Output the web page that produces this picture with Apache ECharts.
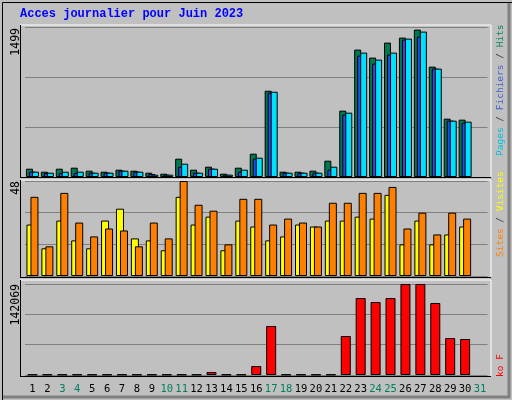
<!DOCTYPE html>
<html><head><meta charset="utf-8">
<script src="https://cdn.jsdelivr.net/npm/echarts@6/dist/echarts.min.js"></script>
<style>html,body{margin:0;padding:0;background:#c0c0c0}#c{width:512px;height:400px}</style>
</head><body><div id="c"></div>
<script>
const days = ['1','2','3','4','5','6','7','8','9','10','11','12','13','14','15','16','17','18','19','20','21','22','23','24','25','26','27','28','29','30','31'];
const weekend = ['3','4','10','11','17','18','24','25','31'];
const hits =   [83,53,83,93,63,53,73,63,43,33,183,73,103,33,93,233,862,53,53,63,163,663,1273,1193,1343,1393,1473,1103,583,573,null];
const files =  [53,40,40,40,43,43,63,53,30,23,103,43,83,23,53,183,842,43,43,43,73,623,1213,1133,1223,1373,1403,1083,563,543,null];
const pages =  [53,43,53,53,43,43,63,53,23,23,133,43,83,23,73,193,852,43,43,43,103,643,1243,1173,1243,1383,1453,1083,563,553,null];
const sites =  [26,14,28,18,14,28,34,19,18,13,40,26,30,13,28,25,18,20,26,25,28,28,30,29,41,16,28,16,21,25,null];
const visits = [40,15,42,27,20,24,23,15,27,19,48,36,33,16,39,39,26,29,27,25,37,37,42,42,45,24,32,21,32,29,null];
const kb =     [700,700,700,700,700,700,700,700,700,700,700,700,4700,700,700,14000,76500,700,700,700,700,60900,120100,113900,120100,142069,142069,112400,57700,56200,null];
const maxLabels = ['1499','48','142069'];
const maxVals = [1499,48,142069];

const chart = echarts.init(document.getElementById('c'));
const mono = 'DejaVu Sans Mono';
const L = 25, R = 24.5;
const grids = [
  {left:L,right:R,top:27,height:150},
  {left:L,right:R,top:181,height:95},
  {left:L,right:R,top:284,height:91}
];
function xa(i){return {type:'category',gridIndex:i,data:days,
  axisLine:{show:false},axisTick:{show:false},
  axisLabel:{show:i===2,interval:0,fontFamily:mono,fontSize:10.5,margin:9,
    color:(v)=>weekend.includes(v)?'#008060':'#000'}};}
function ya(i){return {type:'value',gridIndex:i,min:0,max:maxVals[i],interval:maxVals[i]/3,
  axisLabel:{show:false},axisLine:{show:false},axisTick:{show:false},
  splitLine:{show:true,lineStyle:{color:'#808080',width:1}}};}
const bs = {borderColor:'#000',borderWidth:1};
const series = [
  {type:'bar',xAxisIndex:0,yAxisIndex:0,data:hits,barWidth:7,barGap:'-57%',itemStyle:{color:'#007850',...bs}},
  {type:'bar',xAxisIndex:0,yAxisIndex:0,data:files,barWidth:7,barGap:'-57%',itemStyle:{color:'#2050f0',...bs}},
  {type:'bar',xAxisIndex:0,yAxisIndex:0,data:pages,barWidth:7,barGap:'-57%',itemStyle:{color:'#00e0ff',...bs}},
  {type:'bar',xAxisIndex:1,yAxisIndex:1,data:sites,barWidth:8,barGap:'-50%',itemStyle:{color:'#ffff00',...bs}},
  {type:'bar',xAxisIndex:1,yAxisIndex:1,data:visits,barWidth:8,barGap:'-50%',itemStyle:{color:'#ff8000',...bs}},
  {type:'bar',xAxisIndex:2,yAxisIndex:2,data:kb,barWidth:10,itemStyle:{color:'#ff0000',...bs}}
];
const g = [
  {type:'rect',left:0,top:0,shape:{x:0,y:0,width:511,height:399},style:{fill:'none',stroke:'#000',lineWidth:1},z:100},
  {type:'line',shape:{x1:509,y1:2,x2:509,y2:398},style:{stroke:'#808080',lineWidth:3},z:99},
  {type:'line',shape:{x1:2,y1:397,x2:510,y2:397},style:{stroke:'#808080',lineWidth:3},z:99},
  {type:'text',x:20,y:8,style:{text:'Acces journalier pour Juin 2023',font:'bold 12px "Liberation Mono"',fill:'#0000ff'}},
];
const frames=[[25,177],[180,277],[280,376]];
frames.forEach(f=>{
  g.push({type:'line',shape:{x1:20,y1:f[0],x2:491,y2:f[0]},style:{stroke:'#fff',lineWidth:1},z:50});
  g.push({type:'line',shape:{x1:491,y1:f[0],x2:491,y2:f[1]},style:{stroke:'#fff',lineWidth:1},z:50});
  g.push({type:'line',shape:{x1:20.5,y1:f[0],x2:20.5,y2:f[1]},style:{stroke:'#000',lineWidth:1},z:50});
});
g.push({type:'line',shape:{x1:20,y1:376.5,x2:491,y2:376.5},style:{stroke:'#000',lineWidth:1},z:50});
g.push({type:'line',shape:{x1:20,y1:177.5,x2:491,y2:177.5},style:{stroke:'#000',lineWidth:1},z:50});
g.push({type:'line',shape:{x1:20,y1:277.5,x2:491,y2:277.5},style:{stroke:'#000',lineWidth:1},z:50});
const labY=[28,181,284];
maxLabels.forEach((t,i)=>{
  g.push({type:'text',x:10,y:labY[i],rotation:Math.PI/2,style:{text:t,font:'11.5px "DejaVu Sans Mono"',fill:'#000',align:'right',verticalAlign:'top'}});
});
const F='9.5px "DejaVu Sans Mono"';
function rl(y,rich,txt){g.push({type:'text',x:496,y:y,rotation:Math.PI/2,style:{text:txt,rich:rich,font:F,align:'left',verticalAlign:'top'}});}
rl(156,{p:{fill:'#00c0e0',font:F},s:{fill:'#404040',font:F},f:{fill:'#4060d0',font:F},h:{fill:'#008060',font:F}},'{p|Pages} {s|/} {f|Fichiers} {s|/} {h|Hits}');
rl(257,{a:{fill:'#ff8000',font:F},b:{fill:'#ffff00',font:F},s:{fill:'#404040',font:F}},'{a|Sites} {s|/} {b|Visites}');
rl(377,{k:{fill:'#ff0000',font:F}},'{k|ko F}');
chart.setOption({
  animation:false,backgroundColor:'#c0c0c0',
  grid:grids,xAxis:[xa(0),xa(1),xa(2)],yAxis:[ya(0),ya(1),ya(2)],
  series:series,graphic:g
});
</script></body></html>
